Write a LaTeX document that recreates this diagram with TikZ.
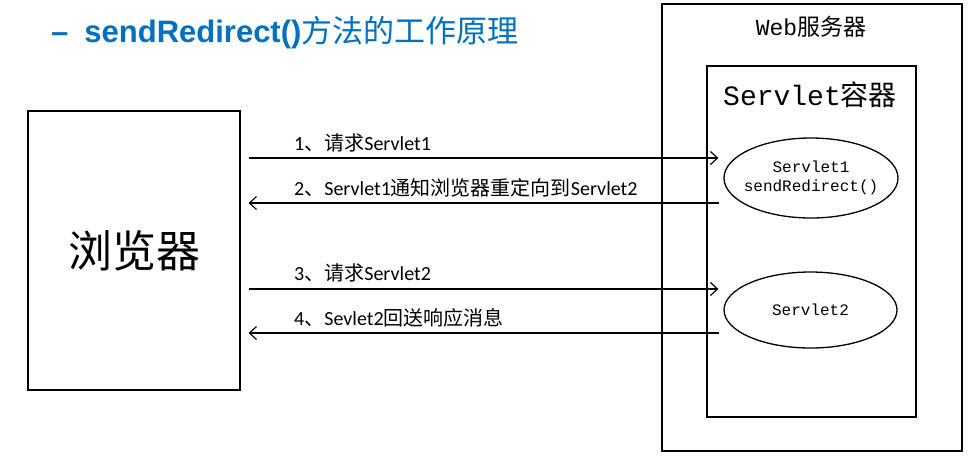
\documentclass[tikz,border=0pt]{standalone}
\usepackage{fontspec}
\setmainfont{Carlito}
\setsansfont{Liberation Sans}
\setmonofont{Liberation Mono}
\newfontfamily\zhfont{Noto Sans CJK SC}
\usetikzlibrary{arrows.meta,shapes.geometric}
\definecolor{titleblue}{RGB}{0,112,192}

\begin{document}
\begin{tikzpicture}[x=1pt,y=-1pt]
	\tikzstyle{box} = [draw,line width=1.2pt,inner sep=0pt]
	\tikzstyle{servlet} = [draw,ellipse,line width=1.3pt,inner sep=0pt,font=\fontsize{16}{19}\selectfont\ttfamily,align=center]
	\tikzstyle{msg} = [line width=1.5pt,-{Straight Barb[length=7pt,width=13pt,line width=1.2pt]}]
	\tikzstyle{msglabel} = [anchor=west,inner sep=0pt,font=\fontsize{20}{22}\selectfont]

	\useasboundingbox (0,0) rectangle (973,456);

	% title
	\node [anchor=west,inner sep=0pt,text=titleblue,font=\fontsize{31}{33}\selectfont] (title) at (51,33)
		{\sffamily\bfseries –\hspace{16pt}sendRedirect()\zhfont\mdseries 方法的工作原理};

	% browser
	\node [box,minimum width=212pt,minimum height=279pt,font=\zhfont\fontsize{44}{46}\selectfont] (browser) at (134,250.5) {浏览器};

	% web server and servlet container
	\node [box,minimum width=300pt,minimum height=447pt] (server) at (812,227.5) {};
	\node [anchor=center,inner sep=0pt,font=\fontsize{23}{25}\selectfont] (serverlabel) at (811,27) {\ttfamily Web\zhfont 服务器};
	\node [box,minimum width=209pt,minimum height=351pt] (container) at (811.5,241.5) {};
	\node [anchor=center,inner sep=0pt,font=\fontsize{28}{30}\selectfont] (containerlabel) at (810,95) {\ttfamily Servlet\zhfont 容器};

	\node [servlet,inner xsep=-6pt,minimum width=174pt,minimum height=80pt] (s1) at (811,178) {Servlet1\\sendRedirect()};
	\node [servlet,minimum width=173pt,minimum height=76pt] (s2) at (810.5,310) {Servlet2};

	% messages
	\coordinate (r1) at (0,158);
	\coordinate (r2) at (0,203);
	\coordinate (r3) at (0,289);
	\coordinate (r4) at (0,333);

	\foreach \r/\s in {r1/s1,r3/s2}
		\draw[msg] ([xshift=8pt]browser.east |- \r) -- ([xshift=-5pt]\s.west |- \r);
	\foreach \r/\s in {r2/s1,r4/s2}
		\draw[msg] ([xshift=-4pt]\s.west |- \r) -- ([xshift=8pt]browser.east |- \r);

	\node [msglabel] (m1) at (294,143) {1{\zhfont 、请求}Servlet1};
	\node [msglabel] (m2) at (294,188) {2{\zhfont 、}Servlet1{\zhfont 通知浏览器重定向到}Servlet2};
	\node [msglabel] (m3) at (294,273) {3{\zhfont 、请求}Servlet2};
	\node [msglabel] (m4) at (294,318) {4{\zhfont 、}Sevlet2{\zhfont 回送响应消息}};

\end{tikzpicture}
\end{document}
